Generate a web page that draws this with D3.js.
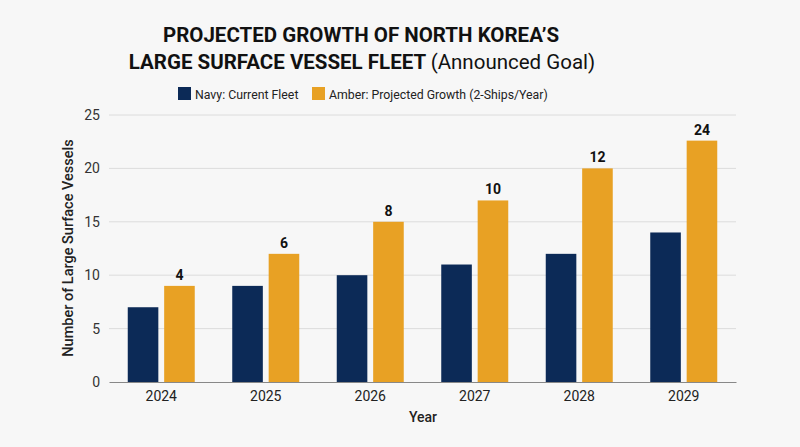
<!doctype html>
<html>
<head>
<meta charset="utf-8"/>
<title>North Korea Large Surface Vessel Fleet</title>
<script src="https://d3js.org/d3.v7.min.js"></script>
<style>
 body { margin:0; background:#f7f7f7; }
 text { font-family: Roboto, "Open Sans", sans-serif; }
</style>
</head>
<body>
<script>
// data
var years = ["2024", "2025", "2026", "2027", "2028", "2029"];
var seriesNames = ["navy", "amber"];
var currentFleet = [7, 9, 10, 11, 12, 14];
var projected = [9, 12, 15, 17, 20, 22.6];
var growthLabels = ["4", "6", "8", "10", "12", "24"];
var yTicks = [0, 5, 10, 15, 20, 25];
var legendLabels = ["Navy: Current Fleet", "Amber: Projected Growth (2-Ships/Year)"];

var colors = { navy: "#0c2a57", amber: "#e8a124" };

var W = 800, H = 447;
var svg = d3.select("body").append("svg")
    .attr("width", W)
    .attr("height", H);

svg.append("rect").attr("width", W).attr("height", H).attr("fill", "#f7f7f7");

// title
svg.append("text")
    .attr("x", 361).attr("y", 42)
    .attr("text-anchor", "middle")
    .attr("font-size", 20.5).attr("font-weight", 700).attr("fill", "#111")
    .text("PROJECTED GROWTH OF NORTH KOREA\u2019S");
var t2 = svg.append("text")
    .attr("x", 362).attr("y", 69)
    .attr("text-anchor", "middle")
    .attr("font-size", 20.5).attr("fill", "#111");
t2.append("tspan").attr("font-weight", 700).text("LARGE SURFACE VESSEL FLEET ");
t2.append("tspan").attr("font-weight", 400).text("(Announced Goal)");

// legend
var legend = svg.append("g");
var lx = [178, 312];
seriesNames.forEach(function(s, i) {
    legend.append("rect")
        .attr("x", lx[i]).attr("y", 87)
        .attr("width", 13).attr("height", 13)
        .attr("fill", colors[s]);
    legend.append("text")
        .attr("x", lx[i] + 17).attr("y", 98.5)
        .attr("font-size", 12.3).attr("fill", "#222")
        .text(legendLabels[i]);
});

// scales
var plotL = 109, plotR = 736, plotT = 115, plotB = 382;
var x0 = d3.scaleBand().domain(years).range([plotL, plotR]).padding(0);
var groupW = 67;
var x1 = d3.scaleBand().domain(seriesNames).range([0, groupW]).paddingInner(0.16);
var y = d3.scaleLinear().domain([0, 25]).range([plotB, plotT]);

// grid
svg.append("g").selectAll("line")
    .data(yTicks.slice(1))
    .join("line")
    .attr("x1", plotL).attr("x2", plotR)
    .attr("y1", function(d) { return y(d); })
    .attr("y2", function(d) { return y(d); })
    .attr("stroke", "#dcdcdc").attr("stroke-width", 1);

// y axis
var yAxis = svg.append("g")
    .attr("transform", "translate(" + plotL + ",0)")
    .call(d3.axisLeft(y).tickValues(yTicks).tickSize(0).tickPadding(9));
yAxis.select(".domain").remove();
yAxis.selectAll("text")
    .attr("font-size", 14).attr("fill", "#333")
    .style("font-family", "Roboto, sans-serif");

// bars
var rows = years.map(function(yr, i) {
    return { year: yr, navy: currentFleet[i], amber: projected[i], label: growthLabels[i] };
});

var groups = svg.append("g").selectAll("g")
    .data(rows)
    .join("g")
    .attr("transform", function(d) {
        return "translate(" + (x0(d.year) + x0.bandwidth() / 2 - groupW / 2) + ",0)";
    });

groups.selectAll("rect")
    .data(function(d) { return seriesNames.map(function(s) { return { key: s, value: d[s] }; }); })
    .join("rect")
    .attr("x", function(d) { return x1(d.key); })
    .attr("width", x1.bandwidth())
    .attr("y", function(d) { return y(d.value); })
    .attr("height", function(d) { return plotB - y(d.value); })
    .attr("fill", function(d) { return colors[d.key]; });

groups.append("text")
    .attr("x", x1("amber") + x1.bandwidth() / 2)
    .attr("y", function(d) { return y(d.amber) - 6; })
    .attr("text-anchor", "middle")
    .attr("font-size", 14).attr("font-weight", 700).attr("fill", "#111")
    .text(function(d) { return d.label; });

// x axis
var xAxis = svg.append("g")
    .attr("transform", "translate(0," + plotB + ")")
    .call(d3.axisBottom(x0).tickSize(0).tickPadding(9));
xAxis.select(".domain").attr("stroke", "#888").attr("stroke-width", 1.2);
xAxis.selectAll("text")
    .attr("font-size", 14).attr("fill", "#222")
    .style("font-family", "Roboto, sans-serif");

// axis titles
svg.append("text")
    .attr("x", 423).attr("y", 422)
    .attr("text-anchor", "middle")
    .attr("font-size", 14).attr("font-weight", 500).attr("fill", "#222")
    .text("Year");

svg.append("text")
    .attr("transform", "translate(73,248) rotate(-90)")
    .attr("text-anchor", "middle")
    .attr("font-size", 14.5).attr("font-weight", 500).attr("fill", "#222")
    .text("Number of Large Surface Vessels");
</script>
</body>
</html>
